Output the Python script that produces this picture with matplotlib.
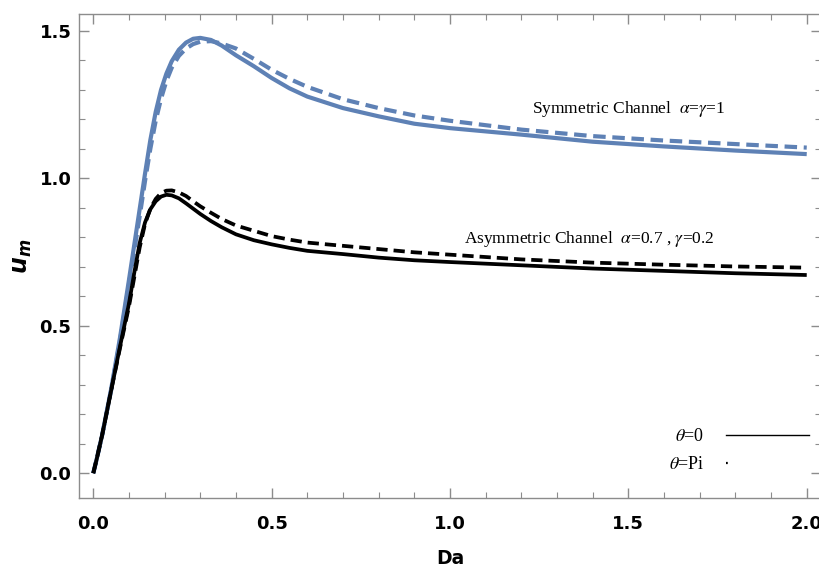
import matplotlib
matplotlib.use("Agg")
import matplotlib.pyplot as plt
from matplotlib.lines import Line2D
from matplotlib.ticker import MultipleLocator

plt.rcParams['mathtext.fontset'] = 'stix'

# Darcy number grid shared by all curves (denser around the peaks)
da = [0, 0.01, 0.025, 0.05, 0.075, 0.1, 0.115, 0.13, 0.145, 0.16, 0.175, 0.19,
      0.205, 0.22, 0.24, 0.26, 0.28, 0.30, 0.33, 0.36, 0.4, 0.45, 0.5, 0.55, 0.6,
      0.7, 0.8, 0.9, 1.0, 1.2, 1.4, 1.6, 1.8, 2.0]

# symmetric channel (alpha = gamma = 1)
um_sym_theta0 = [0, 0.05, 0.13, 0.285, 0.46, 0.655, 0.775, 0.895, 1.015, 1.13, 1.225, 1.30,
                 1.355, 1.397, 1.436, 1.46, 1.473, 1.476, 1.469, 1.45, 1.417, 1.38, 1.34,
                 1.305, 1.277, 1.238, 1.21, 1.185, 1.17, 1.148, 1.124, 1.108, 1.094, 1.082]
um_sym_thetapi = [0, 0.05, 0.13, 0.28, 0.45, 0.64, 0.755, 0.87, 0.99, 1.10, 1.195, 1.27,
                  1.33, 1.375, 1.415, 1.44, 1.455, 1.463, 1.465, 1.457, 1.44, 1.405, 1.368,
                  1.337, 1.31, 1.268, 1.238, 1.213, 1.195, 1.165, 1.143, 1.128, 1.116, 1.104]

# asymmetric channel (alpha = 0.7, gamma = 0.2)
um_asym_theta0 = [0, 0.05, 0.13, 0.28, 0.43, 0.575, 0.68, 0.78, 0.85, 0.895, 0.922, 0.938,
                  0.944, 0.942, 0.932, 0.915, 0.897, 0.879, 0.855, 0.834, 0.81, 0.79, 0.776,
                  0.764, 0.754, 0.743, 0.731, 0.722, 0.716, 0.705, 0.694, 0.686, 0.678, 0.672]
um_asym_thetapi = [0, 0.05, 0.13, 0.28, 0.425, 0.565, 0.665, 0.765, 0.845, 0.897, 0.93, 0.95,
                   0.958, 0.959, 0.952, 0.94, 0.922, 0.905, 0.883, 0.862, 0.84, 0.822, 0.804,
                   0.792, 0.782, 0.771, 0.76, 0.749, 0.741, 0.725, 0.714, 0.707, 0.701, 0.697]

blue = '#5E81B5'
dash = (3.0, 1.6)

fig = plt.figure(figsize=(8.19, 5.68), dpi=100)
ax = fig.add_axes([79 / 819, 70 / 568, 742 / 819, 484 / 568])

ax.plot(da, um_sym_theta0, color=blue, lw=3.0, solid_capstyle='butt')
ax.plot(da, um_sym_thetapi, color=blue, lw=3.0, dashes=dash, dash_capstyle='butt')
ax.plot(da, um_asym_theta0, color='black', lw=2.7, solid_capstyle='butt')
ax.plot(da, um_asym_thetapi, color='black', lw=2.7, dashes=dash, dash_capstyle='butt')

ax.set_xlim(-0.04, 2.04)
ax.set_ylim(-0.084, 1.557)

# frame with inward ticks on all sides
for s in ax.spines.values():
    s.set_color('#8c8c8c')
    s.set_linewidth(1.0)
ax.xaxis.set_major_locator(MultipleLocator(0.5))
ax.xaxis.set_minor_locator(MultipleLocator(0.1))
ax.yaxis.set_major_locator(MultipleLocator(0.5))
ax.yaxis.set_minor_locator(MultipleLocator(0.1))
ax.tick_params(which='both', direction='in', top=True, right=True, color='#8c8c8c')
ax.tick_params(which='major', length=7, width=1.0)
ax.tick_params(which='minor', length=4.5, width=0.8)
ax.tick_params(axis='x', which='major', pad=12)
ax.tick_params(axis='y', which='major', pad=5.5)
ax.xaxis.set_major_formatter(plt.FormatStrFormatter('%.1f'))
ax.yaxis.set_major_formatter(plt.FormatStrFormatter('%.1f'))
for lab in ax.get_xticklabels() + ax.get_yticklabels():
    lab.set_family('DejaVu Sans')
    lab.set_fontweight('bold')
    lab.set_fontsize(13)

ax.set_xlabel('Da', family='DejaVu Sans', fontweight='bold', fontsize=13.5, labelpad=12)
ax.set_ylabel(r'$\mathbfit{u}_{\mathbfit{m}}$', fontsize=17, labelpad=4,
              math_fontfamily='dejavusans')

ax.text(1.5, 1.235, r'Symmetric Channel  $\alpha$=$\gamma$=1', family='Liberation Serif',
        fontsize=12.5, ha='center', va='center')
ax.text(1.39, 0.795, r'Asymmetric Channel  $\alpha$=0.7 , $\gamma$=0.2', family='Liberation Serif',
        fontsize=12.5, ha='center', va='center')

# theta = Pi sample is a single short dash, as a dashed key at this length shows
handles = [Line2D([], [], color='black', lw=1.0),
           Line2D([], [], color='black', lw=1.6, dashes=(0.8, 200), dash_capstyle='butt')]
ax.legend(handles, [r'$\theta$=0', r'$\theta$=Pi'], loc='lower right', markerfirst=False,
          frameon=False, handlelength=4.6, handletextpad=1.2, labelspacing=0.6,
          borderpad=0, borderaxespad=0,
          prop={'family': 'Liberation Serif', 'size': 13},
          bbox_to_anchor=(0.984, 0.052))

fig.savefig('out.png', dpi=100)
